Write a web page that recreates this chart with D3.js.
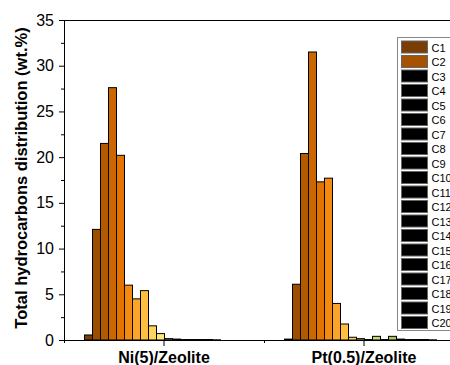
<!DOCTYPE html>
<html><head><meta charset="utf-8">
<script src="https://cdn.jsdelivr.net/npm/d3@7"></script>
<style>body{margin:0;background:#fff;overflow:hidden}svg{display:block;font-family:Arial,"Liberation Sans",sans-serif}</style>
</head><body>
<svg id="c" width="450" height="365"></svg>
<script>
const categories = ["Ni(5)/Zeolite", "Pt(0.5)/Zeolite"];
const series = ["C1","C2","C3","C4","C5","C6","C7","C8","C9","C10","C11","C12","C13","C14","C15","C16","C17","C18","C19","C20"];
const niValues = [0.55, 12.1, 21.5, 27.6, 20.2, 6.0, 4.5, 5.4, 1.55, 0.7, 0.15, 0.1, 0.05, 0.05, 0.05, 0.05, 0.02, 0, 0, 0];
const ptValues = [0.1, 6.1, 20.4, 31.5, 17.3, 17.7, 4.0, 1.75, 0.3, 0.15, 0.05, 0.4, 0.05, 0.4, 0.1, 0.05, 0.05, 0.05, 0.02, 0];
const barColors = ["#7a3d06","#9b4d00","#b35a00","#cc6600","#e57300","#f58a10","#fca42a","#ffbe40","#ffd45a","#ffe878","#a0a070","#c8d870","#bcd060","#a8c858","#606040","#909090","#a0a0a0","#b0b0b0","#c0c0c0","#d0d0d0"];
const legendColors = ["#7a3d06","#a65200","#000","#000","#000","#000","#000","#000","#000","#000","#000","#000","#000","#000","#000","#000","#000","#000","#000","#000"];
const yTicks = [0,5,10,15,20,25,30,35];
const yTitle = "Total hydrocarbons distribution (wt.%)";

(function(){
const values = [niValues, ptValues];
const svg = d3.select("#c");
const mLeft = 64, mTop = 20, mBottom = 340, mRight = 464;

const y = d3.scaleLinear().domain([0,35]).range([mBottom, mTop]);
const x0 = d3.scaleBand().domain(categories).range([mLeft, mRight]).padding(0);
const x1 = d3.scaleBand().domain(series).range([0, 160]);

svg.append("line").attr("x1", mLeft).attr("x2", mRight).attr("y1", mTop+0.5).attr("y2", mTop+0.5).attr("stroke","#000").attr("stroke-width",1);

categories.forEach((cat, ci) => {
  const g = svg.append("g");
  g.selectAll("rect").data(series.map((s,i)=>({s, v: values[ci][i], i})).filter(d=>d.v>0))
    .join("rect")
    .attr("x", d => x0(cat) + 20 + x1(d.s) + 0.5)
    .attr("y", d => y(d.v))
    .attr("width", x1.bandwidth())
    .attr("height", d => y(0) - y(d.v))
    .attr("fill", d => barColors[d.i])
    .attr("stroke", "#000").attr("stroke-width", 1);
});

const yAxis = d3.axisLeft(y).tickValues(yTicks).tickSize(5).tickPadding(5).tickFormat(d3.format("d"));
const ya = svg.append("g").attr("transform", `translate(${mLeft},0)`).call(yAxis);
ya.select(".domain").attr("stroke","#000");
ya.selectAll(".tick text").attr("font-size", 16).attr("fill","#000");
const yMinor = d3.range(2.5, 35, 5);
svg.append("g").selectAll("line").data(yMinor).join("line")
  .attr("x1", mLeft-3).attr("x2", mLeft).attr("y1", d=>y(d)+0.5).attr("y2", d=>y(d)+0.5).attr("stroke","#000");

const xAxis = d3.axisBottom(x0).tickSize(6).tickPadding(5).tickSizeOuter(0);
const xa = svg.append("g").attr("transform", `translate(0,${mBottom})`).call(xAxis);
xa.select(".domain").attr("stroke","#000");
xa.selectAll(".tick text").attr("font-size", 16).attr("font-weight","bold").attr("fill","#000").attr("dy","0.78em");
svg.append("g").selectAll("line").data(categories).join("line")
  .attr("x1", d=>x0(d)+0.5).attr("x2", d=>x0(d)+0.5).attr("y1", mBottom).attr("y2", mBottom+3).attr("stroke","#000");

svg.append("text").attr("transform", `translate(27,${(mTop+mBottom)/2 - 2}) rotate(-90)`)
  .attr("text-anchor","middle").attr("font-size", 16.5).attr("font-weight","bold").text(yTitle);

const lg = svg.append("g");
const lx = 397.5, ly = 37.5, lh = 14.5;
lg.append("rect").attr("x", lx).attr("y", ly).attr("width", 80).attr("height", series.length*lh + 3)
  .attr("fill","#fff").attr("stroke","#888").attr("stroke-width",1);
const items = lg.selectAll("g.item").data(series).join("g").attr("class","item")
  .attr("transform", (d,i)=>`translate(${lx+4},${ly+3+i*lh})`);
items.append("rect").attr("x",0).attr("y",0.5).attr("width",26).attr("height",12)
  .attr("fill",(d,i)=>legendColors[i]).attr("stroke","#666").attr("stroke-width",1);
items.append("text").attr("x",30).attr("y",11).attr("font-size",11).attr("fill","#000").text(d=>d);
})();
</script>
</body></html>
